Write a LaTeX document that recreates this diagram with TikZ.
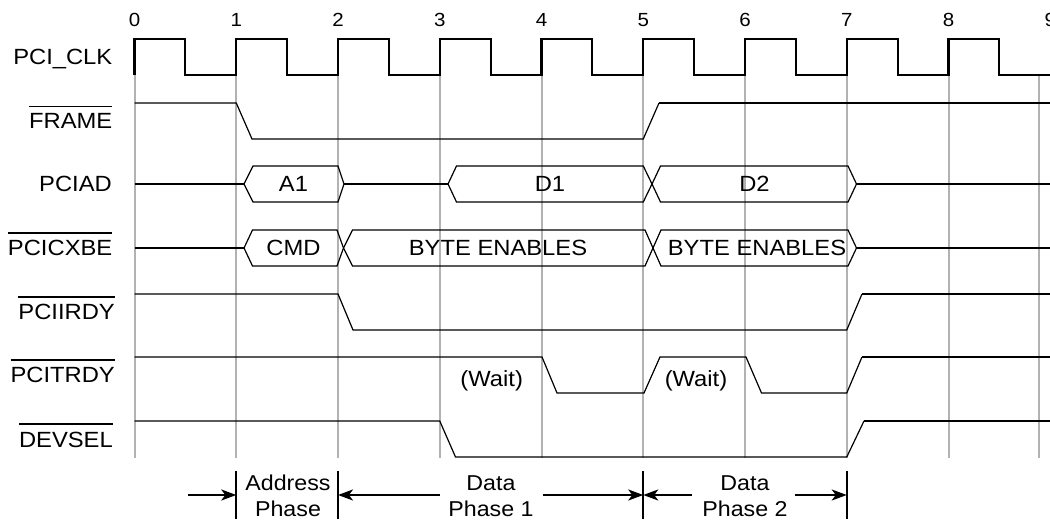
\documentclass[tikz,border=0pt]{standalone}
\usepackage{fontspec}
\setmainfont{Liberation Sans}[FakeStretch=1.08]
\usetikzlibrary{arrows.meta}
\newcommand\olbl[1]{\vbox{\hrule height 1.8pt\kern 6.5pt\hbox{#1}}}
\begin{document}
\begin{tikzpicture}[x=1pt,y=-1pt,
  font=\fontsize{22}{26}\selectfont,
  sigthick/.style={line width=2.2pt,line join=miter},
  sigthin/.style={line width=1.2pt,line join=miter},
  gridline/.style={line width=2pt,color=gray!60},
  siglabel/.style={anchor=base east,inner sep=0pt},
  bustext/.style={anchor=base,inner sep=0pt},
  numlabel/.style={inner sep=0pt,font=\fontsize{19}{22}\selectfont},
  phasetext/.style={anchor=base,inner sep=0pt,font=\fontsize{21.5}{26}\selectfont},
  phasebar/.style={line width=2.2pt},
  phasearrow/.style={line width=2pt,-{Stealth[length=15pt,width=11pt,inset=4pt]}}]
\useasboundingbox (0,0) rectangle (1050,521);
\clip (0,0) rectangle (1050,521);
\fill[white] (0,0) rectangle (1050,521);
% grid lines
\foreach \k in {0,...,8} {
  \draw[gridline] ({134.5+101.75*\k},75) -- ({134.5+101.75*\k},458);
  \node[numlabel] (n\k) at ({134.5+101.75*\k},20) {\k};
}
\node[numlabel] (n9) at (1050.25,20) {9};
\draw[gridline] (1039,75) -- (1039,458);
% clock
\draw[sigthick] (134.5,75) foreach \k in {0,...,8} { -- ++(0,-36) -- ++(50.875,0) -- ++(0,36) -- ++(50.875,0) };
% FRAME
\draw[sigthin] (134.5,103) -- (236.25,103) -- (252,139) -- (643.25,139) -- (659,103);
\draw[sigthick] (659,103) -- (1050,103);
% PCIAD
\draw[sigthick] (134.5,184) -- (244,184);
\draw[sigthin] (244,184) -- (253,166) -- (338,166) -- (344,184) -- (338,202) -- (253,202) -- cycle;
\draw[sigthick] (344,184) -- (448,184);
\draw[sigthin] (448,184) -- (456.5,166) -- (643.25,166) -- (652,184) -- (643.25,202) -- (456.5,202) -- cycle;
\draw[sigthin] (652,184) -- (660.5,166) -- (848,166) -- (856.5,184) -- (848,202) -- (660.5,202) -- cycle;
\draw[sigthick] (856.5,184) -- (1050,184);
% PCICXBE
\draw[sigthick] (134.5,248) -- (244,248);
\draw[sigthin] (244,248) -- (252.5,230) -- (337,230) -- (343.5,248) -- (337,266) -- (252.5,266) -- cycle;
\draw[sigthin] (343.5,248) -- (352.5,230) -- (645,230) -- (653,248) -- (645,266) -- (352.5,266) -- cycle;
\draw[sigthin] (653,248) -- (661,230) -- (848,230) -- (856.5,248) -- (848,266) -- (661,266) -- cycle;
\draw[sigthick] (856.5,248) -- (1050,248);
% PCIIRDY
\draw[sigthin] (134.5,294) -- (338,294) -- (353,330) -- (846.75,330) -- (862,294);
\draw[sigthick] (862,294) -- (1050,294);
% PCITRDY
\draw[sigthin] (134.5,357) -- (542,357) -- (557,393) -- (644,393) -- (660,357) -- (746,357) -- (761.5,393) -- (846.75,393) -- (862,357);
\draw[sigthick] (862,357) -- (1050,357);
% DEVSEL
\draw[sigthin] (134.5,421) -- (439.75,421) -- (455.5,457) -- (846.75,457) -- (864,421);
\draw[sigthick] (864,421) -- (1050,421);
% signal labels
\node[siglabel] (lclk) at (112.5,65) {PCI\_CLK};
\node[siglabel] (lframe) at (112.5,129) {\olbl{FRAME}};
\node[siglabel] (lad) at (112,192) {PCIAD};
\node[siglabel] (lcbe) at (112.5,256) {\olbl{PCICXBE}};
\node[siglabel] (lirdy) at (115,320) {\olbl{PCIIRDY}};
\node[siglabel] (ltrdy) at (115,383) {\olbl{PCITRDY}};
\node[siglabel] (ldev) at (113,447) {\olbl{DEVSEL}};
% bus texts
\node[bustext] (ta1) at (293.5,192) {A1};
\node[bustext] (td1) at (550,192) {D1};
\node[bustext] (td2) at (754.5,192) {D2};
\node[bustext] (tcmd) at (293.5,256) {CMD};
\node[bustext] (tbe1) at (498,256) {BYTE ENABLES};
\node[bustext] (tbe2) at (757,256) {BYTE ENABLES};
\node[bustext] (tw1) at (491.7,386.5) {(Wait)};
\node[bustext] (tw2) at (696,386.5) {(Wait)};
% phases
\coordinate (e1) at (236.25,495);
\coordinate (e2) at (338,495);
\coordinate (e5) at (643.25,495);
\coordinate (e7) at (846.75,495);
\coordinate (s1) at (188,495);
\coordinate (s2) at (440,495);
\coordinate (s3) at (543,495);
\coordinate (s4) at (692,495);
\coordinate (s5) at (795,495);
\foreach \e in {e1,e2,e5,e7} { \draw[phasebar] ([yshift=24pt]\e) -- ([yshift=-24pt]\e); }
\draw[phasearrow] (s1) -- (e1);
\draw[phasearrow] (s2) -- (e2);
\draw[phasearrow] (s3) -- (e5);
\draw[phasearrow] (s4) -- (e5);
\draw[phasearrow] (s5) -- (e7);
\node[phasetext] (pa1) at (288,490) {Address};
\node[phasetext] (pa2) at (288,516.5) {Phase};
\node[phasetext] (pd1) at (491,490) {Data};
\node[phasetext] (pd2) at (491,516.5) {Phase 1};
\node[phasetext] (pe1) at (745,490) {Data};
\node[phasetext] (pe2) at (745,516.5) {Phase 2};
\end{tikzpicture}
\end{document}
